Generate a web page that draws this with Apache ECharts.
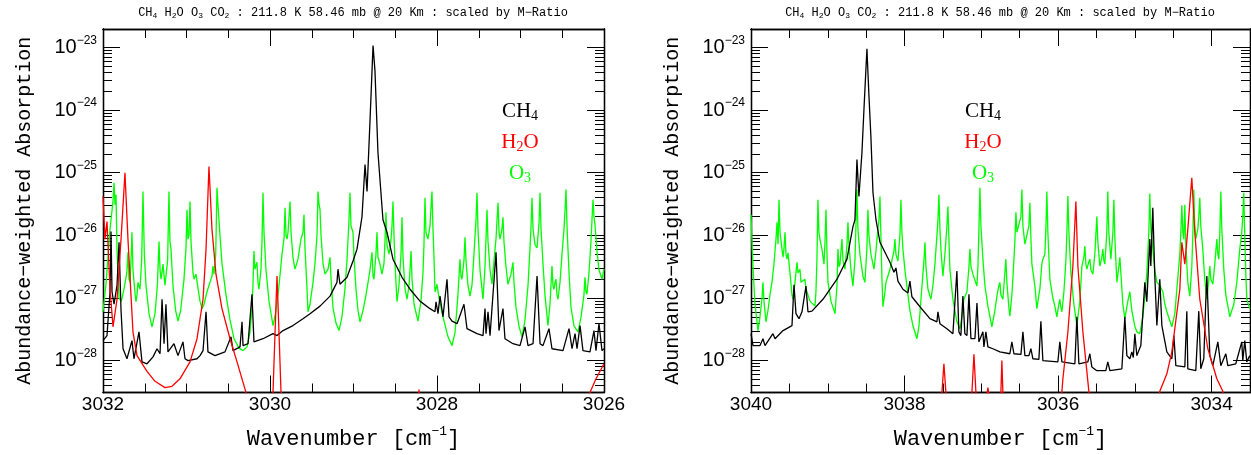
<!DOCTYPE html>
<html>
<head>
<meta charset="utf-8">
<script src="https://cdn.jsdelivr.net/npm/echarts@6/dist/echarts.min.js"></script>
<style>
html, body { margin: 0; padding: 0; background: #fff; }
#chart { width: 1251px; height: 455px; }
</style>
</head>
<body>
<div id="chart"></div>
<script>
var chart = echarts.init(document.getElementById('chart'));

// tick labels
var leftTicks = [3032, 3030, 3028, 3026];
var rightTicks = [3040, 3038, 3036, 3034];
var decades = [-28, -27, -26, -25, -24, -23];

// spectra: [wavenumber cm-1, log10 of absorption]
var ch4Left = [
    [3032.000, -27.68], [3031.952, -27.60], [3031.916, -26.90], [3031.904, -25.94], [3031.892, -26.90],
    [3031.868, -27.10], [3031.832, -26.80], [3031.808, -26.11], [3031.784, -27.20], [3031.760, -27.81],
    [3031.713, -27.97], [3031.653, -27.68], [3031.629, -27.97], [3031.569, -27.54], [3031.533, -28.02],
    [3031.473, -28.05], [3031.401, -27.94], [3031.353, -27.81], [3031.317, -27.89], [3031.293, -27.02],
    [3031.269, -27.73], [3031.246, -27.10], [3031.222, -27.86], [3031.150, -27.73], [3031.102, -27.92],
    [3031.042, -27.70], [3031.018, -27.97], [3030.982, -28.00], [3030.874, -27.97], [3030.838, -27.92],
    [3030.802, -27.84], [3030.766, -27.22], [3030.743, -27.86], [3030.659, -27.92], [3030.539, -27.86],
    [3030.467, -27.62], [3030.443, -27.84], [3030.359, -27.78], [3030.335, -27.38], [3030.323, -27.76],
    [3030.263, -27.73], [3030.216, -26.94], [3030.192, -27.70], [3030.084, -27.65], [3029.964, -27.57],
    [3029.916, -27.60], [3029.844, -27.52], [3029.725, -27.44], [3029.605, -27.33], [3029.521, -27.25],
    [3029.401, -27.13], [3029.281, -26.97], [3029.198, -26.75], [3029.186, -26.54], [3029.162, -26.78],
    [3029.078, -26.67], [3029.006, -26.41], [3028.958, -26.22], [3028.898, -25.70], [3028.862, -24.87],
    [3028.838, -25.30], [3028.802, -24.16], [3028.766, -22.97], [3028.743, -23.37], [3028.707, -24.68],
    [3028.647, -25.75], [3028.599, -25.95], [3028.527, -26.38], [3028.419, -26.67], [3028.323, -26.86],
    [3028.204, -27.05], [3028.084, -27.17], [3028.024, -27.22], [3028.012, -27.06], [3027.988, -27.25],
    [3027.964, -26.97], [3027.928, -27.30], [3027.880, -26.70], [3027.856, -27.30], [3027.820, -27.37],
    [3027.760, -27.41], [3027.677, -27.10], [3027.641, -27.49], [3027.521, -27.57], [3027.449, -27.60],
    [3027.425, -27.17], [3027.413, -27.57], [3027.389, -27.22], [3027.365, -27.60], [3027.293, -26.27],
    [3027.258, -27.52], [3027.210, -27.17], [3027.186, -27.65], [3027.090, -27.73], [3027.006, -27.76],
    [3026.946, -27.46], [3026.910, -27.76], [3026.850, -27.73], [3026.802, -26.65], [3026.766, -27.73],
    [3026.731, -27.76], [3026.659, -27.49], [3026.623, -27.81], [3026.491, -27.84], [3026.419, -27.49],
    [3026.383, -27.81], [3026.347, -27.57], [3026.323, -27.81], [3026.287, -27.44], [3026.252, -27.84],
    [3026.168, -27.86], [3026.120, -27.52], [3026.096, -27.84], [3026.060, -27.41], [3026.024, -27.84],
    [3026.000, -27.81]
];

var h2oLeft = [
    [3032.000, -25.38], [3031.976, -26.06], [3031.952, -25.78], [3031.916, -26.86], [3031.880, -27.46],
    [3031.832, -27.02], [3031.784, -26.06], [3031.737, -25.00], [3031.701, -26.06], [3031.641, -27.54],
    [3031.593, -27.92], [3031.473, -28.17], [3031.377, -28.33], [3031.257, -28.43], [3031.174, -28.41],
    [3031.078, -28.29], [3030.958, -28.02], [3030.874, -27.65], [3030.802, -27.02], [3030.766, -26.22],
    [3030.731, -24.90], [3030.695, -25.90], [3030.647, -26.62], [3030.575, -27.17], [3030.479, -27.65],
    [3030.395, -28.02], [3030.287, -28.51], [3030.150, -29.20], [3030.000, -29.30], [3029.964, -28.51],
    [3029.934, -27.33], [3029.916, -26.65], [3029.898, -27.33], [3029.868, -28.51], [3029.700, -29.50],
    [3028.240, -29.30], [3028.216, -28.46], [3028.192, -29.30], [3026.400, -29.30], [3026.168, -28.51],
    [3026.096, -28.29], [3026.000, -28.05]
];

var o3Left = [
    [3032.000, -27.22], [3031.964, -26.78], [3031.916, -25.90], [3031.880, -25.45], [3031.868, -25.16],
    [3031.856, -25.51], [3031.844, -25.35], [3031.832, -26.25], [3031.808, -27.00], [3031.780, -27.05],
    [3031.749, -26.86], [3031.715, -26.60], [3031.701, -26.27], [3031.689, -26.70], [3031.677, -26.75],
    [3031.665, -26.40], [3031.653, -25.95], [3031.641, -26.55], [3031.617, -26.92], [3031.605, -27.06],
    [3031.593, -26.95], [3031.581, -26.75], [3031.557, -26.86], [3031.537, -26.40], [3031.521, -25.30],
    [3031.505, -26.30], [3031.485, -26.80], [3031.449, -27.25], [3031.413, -27.46], [3031.377, -27.25],
    [3031.349, -26.80], [3031.329, -26.10], [3031.317, -26.55], [3031.305, -26.70], [3031.281, -26.46],
    [3031.258, -26.80], [3031.246, -26.82], [3031.226, -26.40], [3031.210, -25.30], [3031.198, -26.10],
    [3031.186, -26.22], [3031.162, -26.80], [3031.130, -27.20], [3031.102, -27.37], [3031.070, -27.20],
    [3031.030, -26.70], [3031.006, -26.20], [3030.994, -25.59], [3030.982, -26.06], [3030.970, -26.00],
    [3030.958, -25.46], [3030.946, -26.10], [3030.922, -26.60], [3030.910, -26.70], [3030.886, -26.62],
    [3030.862, -26.85], [3030.838, -27.05], [3030.814, -27.17], [3030.790, -27.10], [3030.755, -26.90],
    [3030.695, -26.65], [3030.683, -26.49], [3030.671, -26.62], [3030.650, -26.30], [3030.635, -25.24],
    [3030.623, -25.51], [3030.611, -25.48], [3030.599, -26.00], [3030.575, -26.45], [3030.527, -26.95],
    [3030.479, -27.35], [3030.431, -27.65], [3030.371, -27.80], [3030.323, -27.84], [3030.275, -27.78],
    [3030.240, -27.55], [3030.216, -27.17], [3030.204, -26.80], [3030.192, -26.25], [3030.180, -26.54],
    [3030.156, -26.43], [3030.144, -26.75], [3030.132, -26.86], [3030.108, -26.54], [3030.096, -26.10],
    [3030.084, -25.32], [3030.072, -25.95], [3030.048, -26.55], [3030.012, -27.05], [3029.964, -27.44],
    [3029.928, -27.20], [3029.892, -26.80], [3029.856, -26.30], [3029.832, -26.05], [3029.820, -25.56],
    [3029.808, -26.00], [3029.796, -26.06], [3029.784, -25.95], [3029.760, -25.46], [3029.748, -25.95],
    [3029.725, -26.35], [3029.701, -26.54], [3029.665, -26.38], [3029.629, -26.06], [3029.605, -25.95],
    [3029.593, -25.67], [3029.581, -26.20], [3029.557, -26.85], [3029.545, -27.22], [3029.521, -27.10],
    [3029.485, -26.75], [3029.461, -26.45], [3029.437, -26.00], [3029.425, -25.30], [3029.413, -25.50],
    [3029.401, -25.59], [3029.389, -26.00], [3029.365, -26.45], [3029.341, -26.62], [3029.305, -26.54],
    [3029.281, -26.35], [3029.269, -26.70], [3029.246, -27.15], [3029.210, -27.40], [3029.174, -27.52],
    [3029.138, -27.30], [3029.102, -26.85], [3029.078, -26.40], [3029.054, -25.75], [3029.042, -25.32],
    [3029.030, -25.85], [3029.006, -25.95], [3028.994, -26.35], [3028.970, -26.86], [3028.946, -27.20],
    [3028.922, -27.38], [3028.886, -27.20], [3028.850, -26.95], [3028.802, -26.55], [3028.778, -26.27],
    [3028.766, -26.65], [3028.755, -26.70], [3028.731, -26.30], [3028.719, -25.95], [3028.707, -26.35],
    [3028.683, -26.46], [3028.659, -26.62], [3028.635, -26.45], [3028.623, -26.10], [3028.611, -25.63],
    [3028.599, -26.15], [3028.575, -26.30], [3028.563, -26.20], [3028.551, -26.06], [3028.539, -25.85],
    [3028.527, -25.46], [3028.515, -26.00], [3028.503, -26.45], [3028.479, -27.06], [3028.455, -26.80],
    [3028.431, -26.30], [3028.419, -25.71], [3028.407, -26.35], [3028.383, -26.85], [3028.359, -27.02],
    [3028.335, -26.80], [3028.323, -26.55], [3028.311, -26.25], [3028.299, -26.70], [3028.275, -27.10],
    [3028.228, -27.37], [3028.192, -27.05], [3028.168, -26.60], [3028.156, -26.15], [3028.144, -25.40],
    [3028.132, -25.95], [3028.108, -26.06], [3028.084, -25.85], [3028.072, -25.55], [3028.060, -25.30],
    [3028.048, -25.90], [3028.036, -26.35], [3028.024, -26.90], [3028.012, -26.85], [3028.000, -26.78],
    [3027.976, -27.00], [3027.928, -27.30], [3027.868, -27.62], [3027.820, -27.76], [3027.784, -27.55],
    [3027.749, -26.95], [3027.725, -26.38], [3027.713, -26.65], [3027.701, -26.70], [3027.677, -26.40],
    [3027.665, -26.03], [3027.653, -26.40], [3027.629, -26.80], [3027.605, -26.97], [3027.581, -26.80],
    [3027.557, -26.30], [3027.533, -25.75], [3027.521, -25.32], [3027.509, -25.90], [3027.485, -26.55],
    [3027.449, -27.02], [3027.425, -26.50], [3027.413, -26.05], [3027.401, -25.59], [3027.389, -26.10],
    [3027.365, -26.55], [3027.341, -26.78], [3027.317, -26.40], [3027.293, -26.05], [3027.281, -25.75],
    [3027.269, -25.48], [3027.257, -25.95], [3027.246, -26.06], [3027.222, -25.90], [3027.210, -25.71],
    [3027.198, -26.10], [3027.174, -26.50], [3027.150, -26.78], [3027.114, -26.62], [3027.090, -26.43],
    [3027.078, -26.75], [3027.054, -27.15], [3027.018, -27.45], [3026.982, -27.62], [3026.946, -27.35],
    [3026.910, -26.80], [3026.886, -26.20], [3026.874, -25.85], [3026.862, -25.40], [3026.850, -25.90],
    [3026.826, -26.15], [3026.802, -26.20], [3026.778, -25.80], [3026.766, -25.32], [3026.754, -25.90],
    [3026.731, -26.45], [3026.707, -26.95], [3026.671, -27.44], [3026.647, -27.10], [3026.635, -26.80],
    [3026.623, -26.49], [3026.611, -26.80], [3026.599, -26.86], [3026.587, -26.75], [3026.575, -26.70],
    [3026.563, -26.95], [3026.551, -27.02], [3026.527, -26.75], [3026.503, -26.30], [3026.479, -25.90],
    [3026.467, -25.60], [3026.455, -25.27], [3026.443, -25.85], [3026.419, -26.60], [3026.395, -27.15],
    [3026.359, -27.45], [3026.311, -27.54], [3026.275, -27.30], [3026.240, -26.95], [3026.228, -26.67],
    [3026.216, -26.90], [3026.204, -26.94], [3026.180, -26.60], [3026.156, -26.10], [3026.144, -25.75],
    [3026.132, -25.43], [3026.120, -25.70], [3026.108, -25.83], [3026.084, -26.25], [3026.060, -26.55],
    [3026.024, -26.70], [3026.000, -26.54]
];

var ch4Right = [
    [3040.000, -27.57], [3039.974, -27.76], [3039.883, -27.76], [3039.844, -27.65], [3039.818, -27.76],
    [3039.714, -27.57], [3039.687, -27.65], [3039.583, -27.52], [3039.466, -27.44], [3039.440, -26.79],
    [3039.414, -27.25], [3039.375, -27.33], [3039.336, -27.22], [3039.284, -26.81], [3039.258, -27.22],
    [3039.206, -27.21], [3039.063, -27.02], [3038.880, -26.70], [3038.750, -26.38], [3038.672, -25.86],
    [3038.646, -25.75], [3038.620, -24.79], [3038.594, -25.38], [3038.555, -24.68], [3038.529, -24.00],
    [3038.490, -23.02], [3038.464, -23.76], [3038.438, -24.43], [3038.411, -25.32], [3038.372, -25.75],
    [3038.320, -26.11], [3038.190, -26.43], [3038.138, -26.59], [3038.112, -26.52], [3038.086, -26.73],
    [3038.021, -26.86], [3037.956, -26.92], [3037.930, -26.73], [3037.904, -26.98], [3037.799, -27.14],
    [3037.669, -27.33], [3037.578, -27.38], [3037.565, -27.22], [3037.539, -27.41], [3037.448, -27.49],
    [3037.370, -27.57], [3037.344, -27.54], [3037.318, -26.57], [3037.292, -27.54], [3037.266, -27.60],
    [3037.240, -26.97], [3037.214, -27.57], [3037.187, -27.60], [3037.161, -26.94], [3037.135, -27.65],
    [3037.083, -27.65], [3037.057, -27.08], [3037.031, -27.70], [3037.005, -27.70], [3036.979, -27.54],
    [3036.966, -27.78], [3036.940, -27.54], [3036.914, -27.78], [3036.849, -27.81], [3036.758, -27.86],
    [3036.628, -27.89], [3036.602, -27.70], [3036.575, -27.89], [3036.484, -27.90], [3036.458, -27.54],
    [3036.432, -27.92], [3036.380, -27.92], [3036.354, -27.81], [3036.328, -27.97], [3036.250, -27.98],
    [3036.224, -27.37], [3036.198, -28.00], [3036.003, -28.02], [3035.977, -27.70], [3035.950, -28.02],
    [3035.781, -28.05], [3035.755, -27.30], [3035.729, -28.05], [3035.612, -28.02], [3035.586, -27.89],
    [3035.560, -28.10], [3035.495, -28.16], [3035.378, -28.16], [3035.352, -28.02], [3035.325, -28.16],
    [3035.169, -28.13], [3035.130, -27.30], [3035.104, -27.92], [3035.065, -27.97], [3035.039, -27.86],
    [3035.020, -27.95], [3035.000, -27.57], [3034.974, -27.92], [3034.922, -27.76], [3034.870, -26.75],
    [3034.844, -27.06], [3034.805, -26.06], [3034.792, -26.49], [3034.766, -25.56], [3034.740, -26.65],
    [3034.713, -27.44], [3034.675, -26.70], [3034.648, -27.44], [3034.583, -27.86], [3034.518, -27.97],
    [3034.492, -27.60], [3034.466, -28.08], [3034.349, -28.10], [3034.323, -27.21], [3034.310, -28.13],
    [3034.206, -28.16], [3034.167, -27.21], [3034.141, -28.13], [3034.102, -27.97], [3034.075, -27.02],
    [3034.062, -26.65], [3034.023, -27.92], [3033.984, -28.08], [3033.919, -27.70], [3033.880, -28.08],
    [3033.815, -27.89], [3033.789, -28.08], [3033.685, -28.05], [3033.607, -27.70], [3033.594, -28.00],
    [3033.568, -27.68], [3033.542, -28.02], [3033.503, -27.92]
];

var h2oRight = [
    [3040.000, -30.00], [3037.540, -30.00], [3037.513, -28.51], [3037.487, -28.05], [3037.461, -28.51],
    [3037.440, -30.00], [3037.140, -30.00], [3037.122, -28.51], [3037.096, -27.90], [3037.070, -28.51],
    [3037.050, -30.00], [3036.940, -30.00], [3036.927, -28.55], [3036.914, -28.43], [3036.901, -28.55],
    [3036.880, -30.00], [3036.770, -30.00], [3036.745, -28.51], [3036.732, -28.00], [3036.719, -28.51],
    [3036.700, -30.00], [3036.000, -30.00], [3035.950, -28.49], [3035.937, -28.29], [3035.872, -27.54],
    [3035.807, -26.49], [3035.768, -25.46], [3035.742, -26.49], [3035.677, -27.54], [3035.599, -28.49],
    [3035.500, -29.50], [3034.750, -29.50], [3034.675, -28.49], [3034.583, -28.21], [3034.518, -27.86],
    [3034.414, -26.86], [3034.388, -26.11], [3034.349, -26.46], [3034.310, -25.90], [3034.258, -25.08],
    [3034.245, -25.11], [3034.219, -25.95], [3034.154, -27.02], [3034.049, -27.81], [3033.932, -28.29],
    [3033.854, -28.49], [3033.750, -29.50], [3033.500, -30.00]
];

var o3Right = [
    [3040.000, -25.67], [3039.987, -26.10], [3039.974, -26.50], [3039.948, -27.10], [3039.909, -27.52],
    [3039.883, -27.30], [3039.857, -27.00], [3039.844, -26.75], [3039.831, -27.05], [3039.805, -27.38],
    [3039.779, -27.20], [3039.753, -26.95], [3039.727, -26.75], [3039.700, -26.45], [3039.674, -26.05],
    [3039.661, -25.79], [3039.648, -26.14], [3039.641, -25.80], [3039.635, -25.43], [3039.622, -25.95],
    [3039.596, -26.22], [3039.583, -26.35], [3039.570, -26.20], [3039.557, -25.95], [3039.544, -26.30],
    [3039.531, -26.38], [3039.518, -26.28], [3039.505, -26.25], [3039.492, -26.60], [3039.466, -26.95],
    [3039.453, -27.02], [3039.427, -26.75], [3039.401, -26.43], [3039.388, -26.60], [3039.362, -26.54],
    [3039.349, -26.75], [3039.323, -26.78], [3039.297, -26.70], [3039.284, -26.85], [3039.232, -27.05],
    [3039.167, -27.13], [3039.154, -26.90], [3039.141, -26.38], [3039.128, -25.43], [3039.115, -25.95],
    [3039.102, -26.06], [3039.076, -26.22], [3039.049, -26.46], [3039.036, -26.10], [3039.023, -25.59],
    [3039.010, -26.30], [3038.997, -26.75], [3038.958, -27.05], [3038.906, -27.25], [3038.880, -26.80],
    [3038.867, -26.22], [3038.854, -26.50], [3038.841, -26.46], [3038.828, -26.25], [3038.815, -26.06],
    [3038.802, -26.40], [3038.776, -26.54], [3038.750, -26.15], [3038.737, -25.79], [3038.724, -26.15],
    [3038.698, -26.55], [3038.672, -26.81], [3038.646, -26.40], [3038.633, -25.85], [3038.620, -25.27],
    [3038.607, -25.90], [3038.581, -26.30], [3038.542, -26.65], [3038.516, -26.75], [3038.490, -26.20],
    [3038.477, -25.59], [3038.464, -26.00], [3038.438, -26.30], [3038.398, -26.54], [3038.372, -26.25],
    [3038.359, -26.06], [3038.333, -25.75], [3038.320, -25.38], [3038.307, -26.06], [3038.294, -26.70],
    [3038.281, -27.14], [3038.255, -26.90], [3038.242, -26.75], [3038.190, -26.54], [3038.138, -26.25],
    [3038.125, -26.06], [3038.112, -26.30], [3038.086, -26.41], [3038.060, -26.00], [3038.047, -25.43],
    [3038.034, -25.95], [3038.021, -26.22], [3037.995, -26.55], [3037.969, -26.81], [3037.930, -27.20],
    [3037.891, -27.44], [3037.839, -27.65], [3037.812, -27.45], [3037.786, -27.02], [3037.760, -26.60],
    [3037.747, -26.40], [3037.734, -26.11], [3037.721, -26.50], [3037.695, -26.86], [3037.656, -27.02],
    [3037.630, -26.80], [3037.604, -26.46], [3037.578, -26.00], [3037.565, -25.75], [3037.552, -25.35],
    [3037.539, -25.90], [3037.526, -26.22], [3037.500, -26.65], [3037.474, -26.30], [3037.448, -25.85],
    [3037.435, -25.54], [3037.422, -26.05], [3037.409, -26.54], [3037.370, -27.02], [3037.318, -27.38],
    [3037.279, -27.49], [3037.253, -27.30], [3037.227, -27.02], [3037.187, -26.90], [3037.161, -26.50],
    [3037.148, -26.22], [3037.135, -26.50], [3037.109, -26.62], [3037.083, -26.65], [3037.057, -26.81],
    [3037.044, -26.50], [3037.031, -25.90], [3037.018, -25.24], [3037.005, -25.85], [3036.979, -26.38],
    [3036.953, -26.80], [3036.914, -27.13], [3036.862, -27.46], [3036.823, -27.20], [3036.797, -26.97],
    [3036.771, -26.80], [3036.758, -26.75], [3036.745, -26.95], [3036.719, -27.02], [3036.693, -26.60],
    [3036.680, -26.38], [3036.667, -26.75], [3036.641, -27.15], [3036.628, -27.29], [3036.602, -26.95],
    [3036.589, -26.70], [3036.563, -26.10], [3036.549, -25.63], [3036.536, -25.95], [3036.510, -25.98],
    [3036.484, -25.70], [3036.471, -25.27], [3036.458, -25.85], [3036.432, -26.14], [3036.406, -26.14],
    [3036.380, -25.85], [3036.367, -25.48], [3036.354, -26.05], [3036.341, -26.46], [3036.302, -26.81],
    [3036.276, -27.17], [3036.250, -26.95], [3036.237, -26.86], [3036.211, -26.45], [3036.198, -26.38],
    [3036.172, -26.30], [3036.159, -25.90], [3036.146, -25.30], [3036.133, -25.95], [3036.107, -26.70],
    [3036.068, -27.00], [3036.042, -27.13], [3036.016, -27.30], [3035.990, -27.10], [3035.977, -27.02],
    [3035.963, -27.15], [3035.950, -27.22], [3035.924, -26.90], [3035.898, -26.40], [3035.885, -25.95],
    [3035.872, -25.37], [3035.859, -25.95], [3035.833, -26.60], [3035.794, -27.10], [3035.755, -27.44],
    [3035.716, -27.05], [3035.690, -26.49], [3035.664, -26.35], [3035.651, -26.17], [3035.638, -26.45],
    [3035.625, -26.54], [3035.599, -26.42], [3035.586, -26.38], [3035.573, -26.55], [3035.547, -26.62],
    [3035.521, -26.30], [3035.508, -26.00], [3035.495, -25.70], [3035.482, -26.10], [3035.456, -26.49],
    [3035.430, -26.35], [3035.417, -26.22], [3035.404, -26.40], [3035.391, -26.46], [3035.365, -25.95],
    [3035.352, -25.30], [3035.339, -25.95], [3035.312, -26.38], [3035.286, -25.95], [3035.273, -25.43],
    [3035.260, -26.05], [3035.234, -26.75], [3035.208, -26.50], [3035.195, -26.35], [3035.182, -26.60],
    [3035.156, -27.10], [3035.130, -27.33], [3035.091, -27.05], [3035.065, -26.90], [3035.039, -27.20],
    [3035.000, -27.45], [3034.974, -27.54], [3034.935, -27.57], [3034.896, -27.30], [3034.870, -26.97],
    [3034.844, -26.60], [3034.818, -25.95], [3034.805, -25.33], [3034.792, -25.90], [3034.766, -26.22],
    [3034.740, -26.55], [3034.713, -26.75], [3034.674, -26.80], [3034.635, -26.90], [3034.609, -27.10],
    [3034.583, -27.22], [3034.518, -27.46], [3034.479, -27.25], [3034.453, -26.86], [3034.414, -26.30],
    [3034.401, -25.95], [3034.388, -25.52], [3034.375, -25.95], [3034.362, -26.06], [3034.349, -25.51],
    [3034.336, -26.15], [3034.310, -26.75], [3034.284, -26.97], [3034.258, -26.50], [3034.245, -26.00],
    [3034.232, -25.27], [3034.219, -25.85], [3034.206, -26.06], [3034.180, -25.90], [3034.167, -25.70],
    [3034.154, -25.40], [3034.141, -25.85], [3034.115, -26.22], [3034.089, -26.70], [3034.062, -27.02],
    [3034.036, -26.70], [3034.023, -26.49], [3034.010, -26.70], [3033.984, -26.78], [3033.958, -26.45],
    [3033.932, -26.06], [3033.919, -26.30], [3033.906, -26.38], [3033.893, -25.95], [3033.880, -25.30],
    [3033.867, -25.90], [3033.841, -26.55], [3033.815, -26.95], [3033.763, -27.30], [3033.711, -27.10],
    [3033.672, -26.75], [3033.646, -26.40], [3033.633, -26.22], [3033.607, -25.95], [3033.594, -25.70],
    [3033.581, -25.32], [3033.568, -26.00], [3033.555, -26.60], [3033.542, -27.02], [3033.503, -27.17]
];

var yMin = 3.1e-29;
var yMax = 1.97e-23;
var logLo = Math.log10(yMin);
var logHi = Math.log10(yMax);
var grids = [
    { left: 103, top: 29, width: 501, height: 365 },
    { left: 751, top: 29, width: 499, height: 365 }
];

function toPoints(list) {
    return list.map(function (p) { return [p[0], Math.pow(10, p[1])]; });
}

function halfSteps(min, max, skip) {
    var out = [];
    for (var v = Math.ceil(min * 2) / 2; v <= max; v += 0.5) {
        if (skip.indexOf(v) < 0) out.push(v);
    }
    return out;
}

// positions of the 2..9 ticks of each decade, in log10 units
function logMinors() {
    var out = [];
    for (var e = -29; e <= -23; e++) {
        for (var k = 2; k <= 9; k++) {
            var v = e + Math.log10(k);
            if (v > logLo && v < logHi) out.push(v);
        }
    }
    return out;
}

function frame() {
    return { show: true, onZero: false, lineStyle: { color: '#000', width: 1.3 } };
}

function xSet(grid, min, max, ticks) {
    var minors = halfSteps(min, max, ticks);
    var parts = [['bottom', ticks, 17], ['bottom', minors, 9], ['top', ticks, 17], ['top', minors, 9]];
    return parts.map(function (d, i) {
        var axis = {
            type: 'value', gridIndex: grid, position: d[0], min: min, max: max, inverse: true,
            axisLine: frame(), splitLine: { show: false },
            axisTick: { show: true, inside: true, length: d[2], customValues: d[1], lineStyle: { color: '#000', width: 1 } },
            axisLabel: { show: false }
        };
        if (i === 0) {
            axis.axisLabel = {
                show: true, customValues: ticks, margin: 3, color: '#000',
                fontFamily: 'Liberation Sans', fontSize: 19,
                formatter: function (v) { return String(v); }
            };
            axis.name = 'Wavenumber [cm{sup|\u22121}]';
            axis.nameLocation = 'middle';
            axis.nameGap = 33;
            axis.nameTextStyle = {
                fontFamily: 'Liberation Mono', fontSize: 22, color: '#000',
                rich: { sup: { fontFamily: 'Liberation Mono', fontSize: 13, color: '#000', padding: [0, 0, 14, 0] } }
            };
        }
        return axis;
    });
}

// one log axis carries the spectra; four value axes in log10 units draw the frame and ticks
function ySet(grid) {
    var minors = logMinors();
    var list = [{
        type: 'log', logBase: 10, gridIndex: grid, position: 'left', min: yMin, max: yMax,
        axisLine: { show: false }, axisTick: { show: false }, axisLabel: { show: false }, splitLine: { show: false }
    }];
    var parts = [['left', decades, 17], ['left', minors, 9], ['right', decades, 17], ['right', minors, 9]];
    parts.forEach(function (d, i) {
        var axis = {
            type: 'value', gridIndex: grid, position: d[0], min: logLo, max: logHi,
            axisLine: frame(), splitLine: { show: false },
            axisTick: { show: true, inside: true, length: d[2], customValues: d[1], lineStyle: { color: '#000', width: 1 } },
            axisLabel: { show: false }
        };
        if (i === 0) {
            axis.axisLabel = {
                show: true, customValues: decades, margin: 6, color: '#000',
                formatter: function (v) {
                    return '{b|10}{e|\u2212' + (-Math.round(v)) + '}';
                },
                rich: {
                    b: { fontFamily: 'Liberation Sans', fontSize: 20, color: '#000' },
                    e: { fontFamily: 'Liberation Sans', fontSize: 12, color: '#000', padding: [0, 0, 14, 0] }
                }
            };
            axis.name = 'Abundance\u2212weighted Absorption';
            axis.nameLocation = 'middle';
            axis.nameRotate = 90;
            axis.nameGap = 68;
            axis.nameTextStyle = { fontFamily: 'Liberation Mono', fontSize: 20, color: '#000' };
        }
        list.push(axis);
    });
    return list;
}

function spectrum(name, list, color, grid) {
    return {
        name: name, type: 'line', xAxisIndex: grid * 4, yAxisIndex: grid * 5,
        data: toPoints(list), showSymbol: false, symbol: 'none', clip: true, silent: true,
        lineStyle: { color: color, width: 1.3 }, itemStyle: { color: color }
    };
}

var subRich = { s: { fontSize: 8, fontFamily: 'Liberation Mono', padding: [6, 0, 0, 0] } };
var titleText = 'CH{s|4} H{s|2}O O{s|3} CO{s|2} : 211.8 K 58.46 mb @ 20 Km : scaled by M\u2212Ratio';

function titleAt(x) {
    return {
        type: 'text', x: x, y: 13, silent: true,
        style: {
            text: titleText, fill: '#000', fontFamily: 'Liberation Mono', fontSize: 12,
            align: 'center', verticalAlign: 'middle', rich: subRich
        }
    };
}

function legendAt(x, y, text, color) {
    return {
        type: 'text', x: x, y: y, silent: true,
        style: {
            text: text, fill: color, fontFamily: 'Liberation Serif', fontSize: 21,
            align: 'center', verticalAlign: 'middle',
            rich: { s: { fontFamily: 'Liberation Serif', fontSize: 14, fill: color, padding: [10, 0, 0, 0] } }
        }
    };
}

var option = {
    backgroundColor: '#fff',
    animation: false,
    grid: grids,
    xAxis: [].concat(xSet(0, 3026, 3032, leftTicks), xSet(1, 3033.5, 3040, rightTicks)),
    yAxis: [].concat(ySet(0), ySet(1)),
    series: [
        spectrum('O3', o3Left, '#00ff00', 0),
        spectrum('CH4', ch4Left, '#000000', 0),
        spectrum('H2O', h2oLeft, '#ff0000', 0),
        spectrum('O3', o3Right, '#00ff00', 1),
        spectrum('CH4', ch4Right, '#000000', 1),
        spectrum('H2O', h2oRight, '#ff0000', 1)
    ],
    graphic: [
        titleAt(353), titleAt(1000),
        legendAt(520, 111, 'CH{s|4}', '#000000'),
        legendAt(520, 142, 'H{s|2}O', '#ff0000'),
        legendAt(520, 173, 'O{s|3}', '#00ff00'),
        legendAt(983, 111, 'CH{s|4}', '#000000'),
        legendAt(983, 142, 'H{s|2}O', '#ff0000'),
        legendAt(983, 173, 'O{s|3}', '#00ff00')
    ]
};

chart.setOption(option);
</script>
</body>
</html>
